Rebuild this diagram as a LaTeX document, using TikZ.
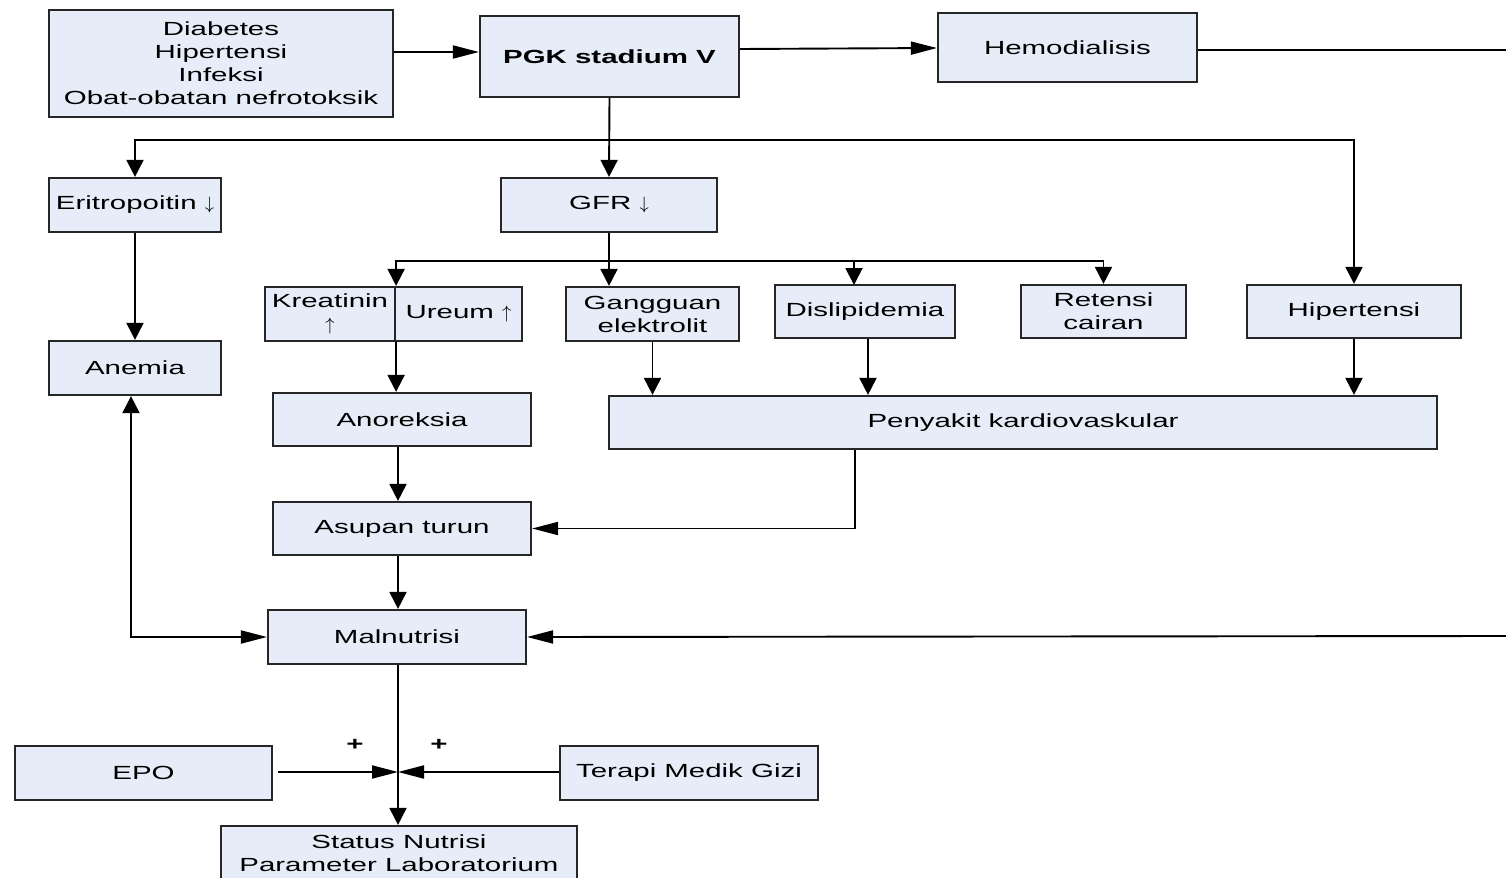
\documentclass[tikz,border=0pt]{standalone}
\usepackage{fontspec}
\setmainfont[FakeStretch=1.55]{Liberation Sans}
\usetikzlibrary{arrows.meta,calc}
\definecolor{boxfill}{RGB}{230,237,248}
\newcommand{\dnarr}{$\downarrow$}
\newcommand{\uparr}{$\uparrow$}
\begin{document}
\begin{tikzpicture}[x=0.5pt,y=-0.5pt,
  box/.style={draw=black!85, line width=1.1pt, fill=boxfill, inner sep=0pt, align=center,
    font=\fontsize{9.5}{11.5}\selectfont},
  conn/.style={line width=0.95pt, black},
  av/.style={conn, -{Triangle[length=8.5pt,width=8.5pt]}},
  ah/.style={conn, -{Triangle[length=13pt,width=6.5pt]}},
  plus/.style={font=\fontsize{9.5}{11.5}\selectfont\bfseries, inner sep=0pt}]
\useasboundingbox (0,0) rectangle (1506,878);
% nodes
\node[box, minimum width=172pt, minimum height=53.5pt] (diab) at (221,63.5) {Diabetes\\Hipertensi\\Infeksi\\Obat-obatan nefrotoksik};
\node[box, minimum width=129.5pt, minimum height=40.5pt, font=\fontsize{9.5}{11.5}\selectfont\bfseries] (pgk) at (609.5,56.5) {PGK stadium V};
\node[box, minimum width=129.5pt, minimum height=34.5pt] (hemo) at (1067.5,47.5) {Hemodialisis};
\node[box, minimum width=86pt, minimum height=27pt] (erit) at (135,205) {Eritropoitin \dnarr};
\node[box, minimum width=108pt, minimum height=27pt] (gfr) at (609,205) {GFR \dnarr};
\node[box, minimum width=65pt, minimum height=27pt] (kre) at (330,314) {Kreatinin\\\uparr};
\node[box, minimum width=63.5pt, minimum height=27pt] (ure) at (458.5,314) {Ureum \uparr};
\node[box, minimum width=86.5pt, minimum height=27pt] (gang) at (652.5,314) {Gangguan\\elektrolit};
\node[box, minimum width=90pt, minimum height=26.5pt] (disl) at (865,311.5) {Dislipidemia};
\node[box, minimum width=82.5pt, minimum height=26.5pt] (ret) at (1103.5,311.5) {Retensi\\cairan};
\node[box, minimum width=107pt, minimum height=26.5pt] (hip) at (1354,311.5) {Hipertensi};
\node[box, minimum width=86pt, minimum height=27pt] (anem) at (135,368) {Anemia};
\node[box, minimum width=129pt, minimum height=26.5pt] (anor) at (402,419.5) {Anoreksia};
\node[box, minimum width=414pt, minimum height=26.5pt] (peny) at (1023,422.5) {Penyakit kardiovaskular};
\node[box, minimum width=129pt, minimum height=26.5pt] (asup) at (402,528.5) {Asupan turun};
\node[box, minimum width=129pt, minimum height=27pt] (maln) at (397,637) {Malnutrisi};
\node[box, minimum width=128.5pt, minimum height=27pt] (epo) at (143.5,773) {EPO};
\node[box, minimum width=129pt, minimum height=27pt] (ter) at (689,773) {Terapi Medik Gizi};
\node[box, minimum width=178pt, minimum height=27pt] (stat) at (399,853) {Status Nutrisi\\Parameter Laboratorium};
\node[plus] (p1) at (355,745) {+};
\node[plus] (p2) at (439,745) {+};
% coordinates
\coordinate (rtop) at (1506,50);
\coordinate (rbot) at (1506,636);
\coordinate (b1) at (609,140);
\coordinate (b2) at (609,261);
\coordinate (jn) at (398,772);
% connectors
\draw[ah] (diab.east |- 0,52) -- (pgk.west |- 0,52);
\draw[ah] (pgk.east |- 0,49) -- (hemo.west |- 0,48);
\draw[conn] (hemo.east |- 0,50) -- (rtop);
\draw[av] (pgk.south) -- (gfr.north);
\draw[av] (b1) -| (erit.north);
\draw[av] (b1) -| (hip.north);
\draw[av] (gfr.south) -- (gfr.south |- gang.north);
\draw[av] (b2) -| (kre.north east);
\draw[av] (b2) -| (854,285);
\draw[av] (b2) -| (ret.north);
\draw[av] (erit.south) -- (anem.north);
\draw[av] (kre.south east) -- (kre.south east |- anor.north);
\draw[av] (gang.south) -- (gang.south |- peny.north);
\draw[av] (disl.south -| 868,0) -- (peny.north -| 868,0);
\draw[av] (hip.south) -- (hip.south |- peny.north);
\draw[av] (anor.south -| 398,0) -- (asup.north -| 398,0);
\draw[ah] (peny.south -| 855,0) |- (asup.east);
\draw[av] (asup.south -| 398,0) -- (maln.north -| 398,0);
\draw[conn, {Triangle[length=8.5pt,width=8.5pt]}-{Triangle[length=13pt,width=6.5pt]}] (anem.south -| 131,0) |- (maln.west);
\draw[ah] (rbot) -- (maln.east);
\draw[av] (maln.south -| 398,0) -- (stat.north -| 398,0);
\draw[ah] ($(epo.east)+(5,-1)$) -- (jn);
\draw[ah] (ter.west |- jn) -- (jn);
\end{tikzpicture}
\end{document}
